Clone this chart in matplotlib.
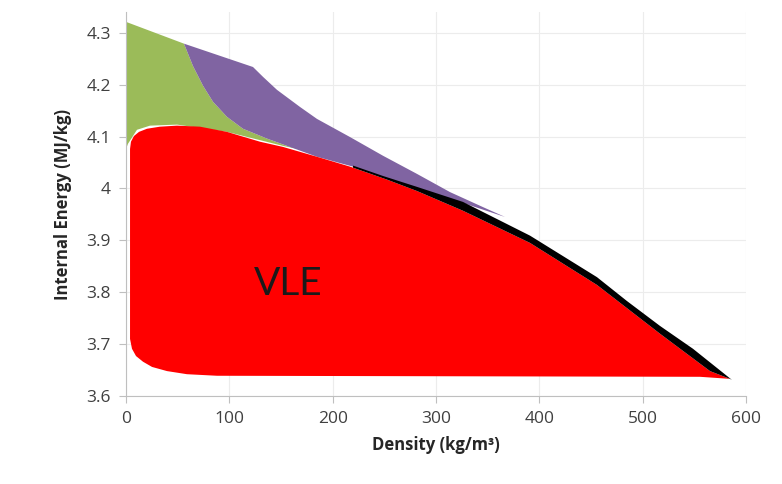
import matplotlib
matplotlib.use('Agg')
import matplotlib.pyplot as plt

# region boundaries (density kg/m3, internal energy MJ/kg)
green_rho = [0, 0, 56.1, 64.8, 74.5, 84.2, 97.7, 113.2, 136.5, 155.8, 178.1, 197.4,
             151.9, 97.7, 49.4, 23.2, 10.6, 1.9]
green_u = [4.076, 4.321, 4.279, 4.236, 4.198, 4.167, 4.138, 4.115, 4.096, 4.082, 4.072, 4.063,
           4.082, 4.109, 4.123, 4.121, 4.113, 4.086]

purple_rho = [56.1, 122.9, 132.6, 146.1, 168.4, 184.8, 216.8, 248.7, 281.6, 313.5, 345.5, 366.8,
              326.1, 252.6, 219.7, 184.8, 155.8, 136.5, 113.2, 97.7, 84.2, 74.5, 64.8]
purple_u = [4.279, 4.234, 4.215, 4.190, 4.157, 4.134, 4.099, 4.063, 4.028, 3.993, 3.964, 3.945,
            3.972, 4.018, 4.042, 4.061, 4.082, 4.096, 4.115, 4.138, 4.167, 4.198, 4.236]

vle_rho = [3.9, 3.9, 4.8, 7.7, 12.6, 20.3, 32.9, 49.4, 71.6, 97.7, 129.7, 151.9, 184.8, 216.8,
           252.6, 281.6, 326.1, 391.0, 455.8, 516.8, 565.2, 584.5,
           555.5, 88.1, 59.0, 39.7, 25.2, 16.5, 9.7, 5.8]
vle_u = [3.710, 4.076, 4.090, 4.101, 4.109, 4.115, 4.119, 4.121, 4.119, 4.109, 4.090, 4.080,
         4.061, 4.042, 4.017, 3.995, 3.957, 3.895, 3.814, 3.720, 3.648, 3.633,
         3.637, 3.639, 3.642, 3.648, 3.656, 3.666, 3.677, 3.691]

black_rho = [219.7, 248.7, 281.6, 326.1, 391.0, 455.8, 484.8, 516.8, 548.7, 586.4,
             584.5, 565.2, 516.8, 455.8, 391.0, 326.1, 281.6, 252.6, 219.7]
black_u = [4.044, 4.024, 4.003, 3.974, 3.909, 3.829, 3.783, 3.735, 3.691, 3.631,
           3.633, 3.648, 3.720, 3.814, 3.895, 3.957, 3.995, 4.017, 4.040]

x_ticks = [0, 100, 200, 300, 400, 500, 600]
y_ticks = [3.6, 3.7, 3.8, 3.9, 4.0, 4.1, 4.2, 4.3]
y_labels = ['3.6', '3.7', '3.8', '3.9', '4', '4.1', '4.2', '4.3']

plt.rcParams['font.family'] = ['Open Sans', 'DejaVu Sans']

fig = plt.figure(figsize=(7.82, 4.84), dpi=100)
ax = fig.add_axes([126 / 782, 1 - 396 / 484, 620 / 782, 384 / 484])

ax.fill(green_rho, green_u, color='#9bbb59', lw=0, zorder=2)
ax.fill(purple_rho, purple_u, color='#8064a2', lw=0, zorder=3)
ax.fill(vle_rho, vle_u, color='#ff0000', lw=0, zorder=4)
ax.fill(black_rho, black_u, color='black', lw=0, zorder=5)

ax.text(157, 3.816, 'VLE', fontsize=28, color='#1a1a1a', ha='center', va='center',
        family=['Lato', 'DejaVu Sans'], zorder=6)

ax.set_xlim(0, 600)
ax.set_ylim(3.6, 4.34)
ax.set_xticks(x_ticks)
ax.set_yticks(y_ticks)
ax.set_yticklabels(y_labels)
ax.grid(True, color='#ececec', lw=0.8, zorder=0)
ax.set_axisbelow(True)

for s in ['top', 'right']:
    ax.spines[s].set_visible(False)
for s in ['left', 'bottom']:
    ax.spines[s].set_color('#bfbfbf')
ax.tick_params(axis='both', direction='out', length=5, color='#bfbfbf',
               labelsize=12.5, labelcolor='#404040', pad=6)

ax.set_xlabel('Density (kg/m³)', fontsize=12, fontweight='bold', color='#262626', labelpad=6)
ax.set_ylabel('Internal Energy (MJ/kg)', fontsize=12, fontweight='bold', color='#262626', labelpad=10)

fig.savefig('out.png', dpi=100)
